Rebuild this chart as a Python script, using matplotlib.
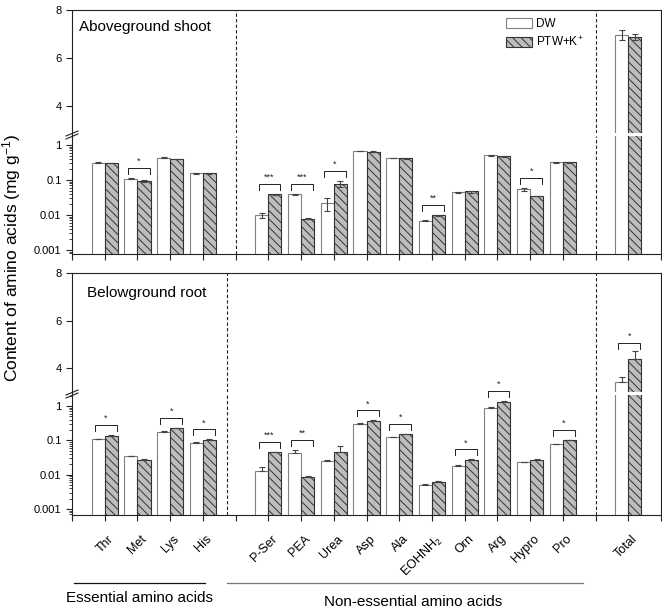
import matplotlib
matplotlib.use("Agg")
import matplotlib.pyplot as plt
import numpy as np
from matplotlib.lines import Line2D
from matplotlib.patches import Patch
from matplotlib.transforms import ScaledTranslation
from matplotlib.ticker import FixedLocator, LogLocator, NullFormatter, NullLocator

plt.rcParams['font.family'] = ['Liberation Sans', 'DejaVu Sans']
plt.rcParams['mathtext.fontset'] = 'custom'
plt.rcParams['mathtext.rm'] = 'Liberation Sans'
plt.rcParams['mathtext.it'] = 'Liberation Sans:italic'
plt.rcParams['mathtext.bf'] = 'Liberation Sans:bold'
plt.rcParams['hatch.linewidth'] = 0.7

categories = ['Thr', 'Met', 'Lys', 'His', 'P-Ser', 'PEA', 'Urea', 'Asp', 'Ala',
              'EOHNH$_2$', 'Orn', 'Arg', 'Hypro', 'Pro', 'Total']
positions = [1, 2, 3, 4, 6, 7, 8, 9, 10, 11, 12, 13, 14, 15, 17]

shoot_dw = [0.31, 0.11, 0.43, 0.155, 0.0098, 0.039, 0.0224, 0.67, 0.425, 0.0069, 0.0445, 0.51, 0.054, 0.32, 6.96]
shoot_dw_err = [0.01, 0.006, 0.015, 0.005, 0.0015, 0.002, 0.009, 0.01, 0.01, 0.0003, 0.002, 0.015, 0.005, 0.008, 0.2]
shoot_ptw = [0.31, 0.094, 0.40, 0.155, 0.039, 0.0079, 0.0785, 0.65, 0.416, 0.0098, 0.047, 0.48, 0.035, 0.32, 6.86]
shoot_ptw_err = [0.006, 0.004, 0.01, 0.004, 0.001, 0.0003, 0.015, 0.01, 0.01, 0.0004, 0.003, 0.012, 0.001, 0.008, 0.12]
shoot_sig = ['', '*', '', '', '***', '***', '*', '', '', '**', '', '', '*', '', '']

root_dw = [0.106, 0.034, 0.177, 0.086, 0.013, 0.044, 0.025, 0.30, 0.124, 0.005, 0.0175, 0.89, 0.023, 0.078, 3.41]
root_dw_err = [0.003, 0.002, 0.006, 0.002, 0.004, 0.01, 0.001, 0.02, 0.005, 0.0002, 0.002, 0.07, 0.001, 0.002, 0.22]
root_ptw = [0.138, 0.026, 0.222, 0.103, 0.045, 0.0088, 0.045, 0.36, 0.148, 0.0061, 0.026, 1.34, 0.026, 0.10, 4.38]
root_ptw_err = [0.006, 0.002, 0.008, 0.003, 0.002, 0.0004, 0.025, 0.02, 0.006, 0.0003, 0.002, 0.08, 0.002, 0.003, 0.32]
root_sig = ['*', '', '*', '*', '***', '**', '', '*', '*', '', '*', '*', '', '*', '*']

W, H = 662, 612
fig = plt.figure(figsize=(W / 100, H / 100), dpi=100)


def box(x0, y0, x1, y1):
    return [x0 / W, 1 - y1 / H, (x1 - x0) / W, (y1 - y0) / H]


SPC = '#222222'
WEDGE = '#808080'
HFACE = '#bdbdbd'
HEDGE = '#333333'
ERRC = '#444444'
BW = 0.4


def style_spines(ax, hide):
    for s in ax.spines.values():
        s.set_linewidth(0.8)
        s.set_color(SPC)
    for s in hide:
        ax.spines[s].set_visible(False)


def draw_panel(lin_box, log_box, lin_ylim, log_ylim, dw, dwe, ptw, ptwe, sig,
               pxlog, pxlin, sym_err, dash1, show_labels):
    axl = fig.add_axes(box(*lin_box))
    axg = fig.add_axes(box(*log_box))
    x = np.array(positions, dtype=float)
    dw = np.array(dw); ptw = np.array(ptw)
    dwe = np.array(dwe); ptwe = np.array(ptwe)

    # log part
    axg.set_yscale('log')
    axg.bar(x - BW / 2, dw, BW, bottom=1e-6, color='white', edgecolor=WEDGE, linewidth=0.8, zorder=2)
    axg.bar(x + BW / 2, ptw, BW, bottom=1e-6, color=HFACE, edgecolor=HEDGE, linewidth=0.8,
            hatch='\\\\\\\\', zorder=2)
    n = len(x) - 1
    if sym_err:
        e1 = dwe[:n]; e2 = ptwe[:n]
        yerr1 = [np.minimum(e1, dw[:n] * 0.9), e1]
        yerr2 = [np.minimum(e2, ptw[:n] * 0.9), e2]
    else:
        yerr1 = [np.zeros(n), dwe[:n]]
        yerr2 = [np.zeros(n), ptwe[:n]]
    axg.errorbar(x[:n] - BW / 2, dw[:n], yerr=yerr1, fmt='none', ecolor=ERRC, elinewidth=0.8,
                 capsize=2.5, capthick=0.8, zorder=3)
    axg.errorbar(x[:n] + BW / 2, ptw[:n], yerr=yerr2, fmt='none', ecolor=ERRC, elinewidth=0.8,
                 capsize=2.5, capthick=0.8, zorder=3)
    axg.set_ylim(*log_ylim)
    axg.set_xlim(0, 18)
    axg.yaxis.set_major_locator(FixedLocator([0.001, 0.01, 0.1, 1]))
    axg.set_yticklabels(['0.001', '0.01', '0.1', '1'])
    axg.yaxis.set_minor_locator(LogLocator(base=10, subs=np.arange(2, 10)))
    axg.yaxis.set_minor_formatter(NullFormatter())
    axg.set_xticks(np.arange(0, 19))
    axg.set_xticklabels([''] * 19)
    axg.xaxis.set_minor_locator(NullLocator())
    axg.tick_params(axis='both', which='major', direction='out', length=4, width=0.8, color=SPC,
                    labelsize=8)
    axg.tick_params(axis='y', which='minor', direction='out', length=2, width=0.6, color=SPC)
    if show_labels:
        off = ScaledTranslation(3 / 100, -18 / 100, fig.dpi_scale_trans)
        tr = axg.get_xaxis_transform() + off
        for p, c in zip(positions, categories):
            axg.text(p, 0, c, transform=tr, rotation=45, ha='right', va='top',
                     rotation_mode='anchor', fontsize=9)
    style_spines(axg, ['top'])
    axg.axvline(dash1, color=SPC, linestyle=(0, (3, 2)), linewidth=0.8, zorder=1)
    axg.axvline(16, color=SPC, linestyle=(0, (3, 2)), linewidth=0.8, zorder=1)

    # linear part (only Total reaches it)
    xt = x[-1]
    axl.bar(xt - BW / 2, dw[-1], BW, color='white', edgecolor=WEDGE, linewidth=0.8, zorder=2)
    axl.bar(xt + BW / 2, ptw[-1], BW, color=HFACE, edgecolor=HEDGE, linewidth=0.8,
            hatch='\\\\\\\\', zorder=2)
    if sym_err:
        ye1 = [[dwe[-1]], [dwe[-1]]]; ye2 = [[ptwe[-1]], [ptwe[-1]]]
    else:
        ye1 = [[0], [dwe[-1]]]; ye2 = [[0], [ptwe[-1]]]
    axl.errorbar([xt - BW / 2], [dw[-1]], yerr=ye1, fmt='none', ecolor=ERRC, elinewidth=0.8,
                 capsize=2.5, capthick=0.8, zorder=3)
    axl.errorbar([xt + BW / 2], [ptw[-1]], yerr=ye2, fmt='none', ecolor=ERRC, elinewidth=0.8,
                 capsize=2.5, capthick=0.8, zorder=3)
    axl.set_ylim(*lin_ylim)
    axl.set_xlim(0, 18)
    axl.set_yticks([4, 6, 8])
    axl.set_xticks([])
    axl.tick_params(axis='y', direction='out', length=4, width=0.8, color=SPC, labelsize=8)
    style_spines(axl, ['bottom'])
    axl.axvline(dash1, color=SPC, linestyle=(0, (3, 2)), linewidth=0.8, zorder=1)
    axl.axvline(16, color=SPC, linestyle=(0, (3, 2)), linewidth=0.8, zorder=1)

    # significance brackets
    for i, s in enumerate(sig):
        if not s:
            continue
        xi = x[i]
        x0, x1 = xi - 0.3, xi + 0.37
        top = max(dw[i] + dwe[i], ptw[i] + ptwe[i])
        if i == len(x) - 1:
            yb = top + 8 / pxlin
            yt = yb - 6 / pxlin
            ys = yb + 3 / pxlin
            ax = axl
        else:
            yb = top * 10 ** (10 / pxlog)
            yt = yb * 10 ** (-6 / pxlog)
            ys = yb * 10 ** (2 / pxlog)
            ax = axg
        ax.plot([x0, x0, x1, x1], [yt, yb, yb, yt], color=SPC, linewidth=0.7, zorder=4,
                clip_on=False)
        ax.text((x0 + x1) / 2, ys, s, ha='center', va='bottom', fontsize=6.5, color=SPC,
                clip_on=False, zorder=5)
    return axl, axg


# top panel: shoot
axl1, axg1 = draw_panel((72, 10, 661, 133), (72, 136, 661, 254), (2.875, 8), (0.00077, 1.81),
                        shoot_dw, shoot_dw_err, shoot_ptw, shoot_ptw_err, shoot_sig,
                        35.0, 24.0, True, 5, False)
# bottom panel: root
axl2, axg2 = draw_panel((72, 273, 661, 392), (72, 395, 661, 515), (2.99, 8), (0.00067, 2.09),
                        root_dw, root_dw_err, root_ptw, root_ptw_err, root_sig,
                        34.33, 23.75, False, 4.75, True)


def fl(xs, ys, **kw):
    fig.add_artist(Line2D([v / W for v in xs], [1 - v / H for v in ys], **kw))


# fill the spines across the breaks and draw break marks on the left
for yb0, yb1 in [(133, 136), (392, 395)]:
    fl([661, 661], [yb0, yb1], color=SPC, linewidth=0.8)
    fl([72, 72], [yb0, yb1], color=SPC, linewidth=0.8)
    c = (yb0 + yb1) / 2
    fl([66, 78], [c + 1.5, c - 3.5], color=SPC, linewidth=0.8)
    fl([66, 78], [c + 4.5, c - 0.5], color=SPC, linewidth=0.8)

# panel titles
fig.text(79 / W, 1 - 27 / H, 'Aboveground shoot', fontsize=11, va='center', ha='left')
fig.text(87 / W, 1 - 293 / H, 'Belowground root', fontsize=11, va='center', ha='left')

# legend
handles = [Patch(facecolor='white', edgecolor=WEDGE, linewidth=0.8),
           Patch(facecolor=HFACE, edgecolor=HEDGE, linewidth=0.8, hatch='\\\\\\\\')]
fig.legend(handles, ['DW', r'PTW+K$^{\!+}$'], loc='upper left', bbox_to_anchor=(506 / W, 1 - 18 / H),
           bbox_transform=fig.transFigure, frameon=False, fontsize=8.5, handlelength=2.2,
           handleheight=0.85, handletextpad=0.35, labelspacing=0.45, borderpad=0, borderaxespad=0)

# y label
fig.text(12 / W, 1 - 258 / H, 'Content of amino acids (mg g$^{-1}$)', rotation=90,
         fontsize=12.5, va='center', ha='center')

# group lines and labels
fl([74, 205], [583, 583], color='#111111', linewidth=0.9)
fl([227, 583], [583, 583], color='#777777', linewidth=0.9)
fig.text(140 / W, 1 - 598 / H, 'Essential amino acids', fontsize=11, ha='center', va='center')
fig.text(413 / W, 1 - 602 / H, 'Non-essential amino acids', fontsize=11, ha='center', va='center')

fig.savefig('out.png', dpi=100)
